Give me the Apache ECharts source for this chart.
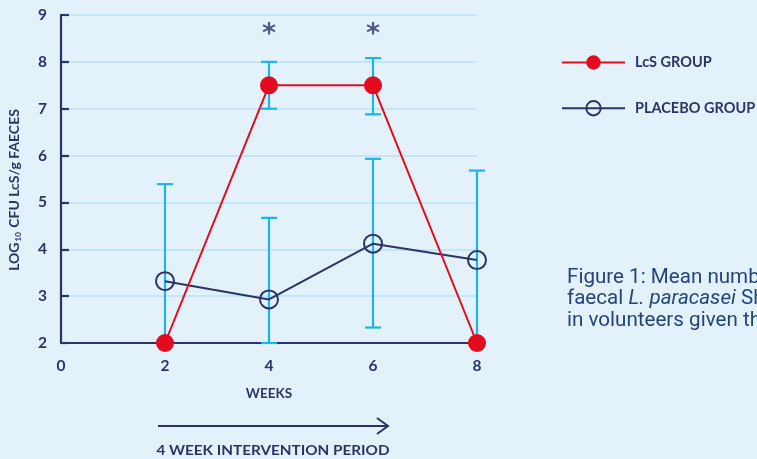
<!DOCTYPE html>
<html>
<head>
<meta charset="utf-8">
<script src="https://cdn.jsdelivr.net/npm/echarts@6/dist/echarts.min.js"></script>
<style>
  html, body { margin: 0; padding: 0; background: #e3f1fb; }
  #chart { width: 757px; height: 459px; }
</style>
</head>
<body>
<div id="chart"></div>
<script>
// Weeks of sampling
const weeks = [2, 4, 6, 8];
// Mean log10 CFU LcS per g faeces
const lcsMean = [2, 7.5, 7.5, 2];
const lcsLow = [null, 7.0, 6.88, null];
const lcsHigh = [null, 8.0, 8.08, null];
const placeboMean = [3.32, 2.93, 4.12, 3.77];
const placeboLow = [2, 2, 2.33, 2];
const placeboHigh = [5.39, 4.67, 5.93, 5.68];
// Weeks with a significant difference
const sigWeeks = [4, 6];
const sigLevel = 8.7;
const xTicks = [0, 2, 4, 6, 8];

const navy = '#2b3467';
const red = '#e30b1d';
const cyan = '#1eb4e6';
const font = 'Lato';

function errorData(low, high) {
  const out = [];
  weeks.forEach((w, i) => {
    if (low[i] != null && high[i] != null) out.push([w, low[i], high[i]]);
  });
  return out;
}

function renderError(params, api) {
  const x = api.value(0);
  const lo = api.coord([x, api.value(1)]);
  const hi = api.coord([x, api.value(2)]);
  const half = 8;
  const style = { stroke: cyan, lineWidth: 2.2, fill: null };
  return {
    type: 'group',
    children: [
      { type: 'line', shape: { x1: lo[0], y1: lo[1], x2: hi[0], y2: hi[1] }, style },
      { type: 'line', shape: { x1: hi[0] - half, y1: hi[1], x2: hi[0] + half, y2: hi[1] }, style },
      { type: 'line', shape: { x1: lo[0] - half, y1: lo[1], x2: lo[0] + half, y2: lo[1] }, style }
    ]
  };
}

const chart = echarts.init(document.getElementById('chart'));
chart.setOption({
  backgroundColor: '#e3f1fb',
  animation: false,
  grid: { left: 61, top: 15, right: 280, bottom: 116 },
  legend: {
    orient: 'vertical',
    left: 561,
    top: 55,
    padding: 0,
    itemWidth: 63,
    itemHeight: 18,
    itemGap: 30,
    data: ['LcS GROUP', 'PLACEBO GROUP'],
    textStyle: { color: navy, fontFamily: font, fontWeight: 'bold', fontSize: 14.5, padding: [0, 0, 0, 5] }
  },
  xAxis: {
    type: 'value',
    min: 0,
    max: 8,
    interval: 2,
    name: 'WEEKS',
    nameLocation: 'middle',
    nameGap: 44,
    nameTextStyle: { color: navy, fontFamily: font, fontWeight: 'bold', fontSize: 13.5 },
    axisLine: { lineStyle: { color: navy, width: 2.2 } },
    axisTick: { show: false },
    splitLine: { show: false },
    axisLabel: {
      color: navy, fontFamily: font, fontWeight: 'bold', fontSize: 15.5, margin: 15,
      formatter: v => xTicks.includes(v) ? String(v) : ''
    }
  },
  yAxis: {
    type: 'value',
    min: 2,
    max: 9,
    interval: 1,
    axisLine: { show: true, lineStyle: { color: navy, width: 2.2 } },
    axisTick: { show: true, inside: true, length: 8, lineStyle: { color: navy, width: 2.2 } },
    splitLine: { show: true, lineStyle: { color: '#c3e5f6', width: 2.2 } },
    axisLabel: { color: navy, fontFamily: font, fontWeight: 'bold', fontSize: 15.5, margin: 14 }
  },
  series: [
    {
      type: 'custom',
      name: 'placebo error',
      renderItem: renderError,
      data: errorData(placeboLow, placeboHigh),
      encode: { x: 0, y: [1, 2] },
      z: 1,
      silent: true
    },
    {
      type: 'custom',
      name: 'lcs error',
      renderItem: renderError,
      data: errorData(lcsLow, lcsHigh),
      encode: { x: 0, y: [1, 2] },
      z: 1,
      silent: true
    },
    {
      type: 'line',
      name: 'PLACEBO GROUP',
      data: weeks.map((w, i) => [w, placeboMean[i]]),
      symbol: 'circle',
      symbolSize: 18,
      showAllSymbol: true,
      lineStyle: { color: navy, width: 2 },
      itemStyle: { color: 'rgba(0,0,0,0)', borderColor: navy, borderWidth: 2 },
      z: 3
    },
    {
      type: 'line',
      name: 'LcS GROUP',
      data: weeks.map((w, i) => [w, lcsMean[i]]),
      symbol: 'circle',
      symbolSize: 18,
      lineStyle: { color: red, width: 2 },
      itemStyle: { color: red },
      z: 4
    },
    {
      type: 'scatter',
      name: 'significance',
      data: sigWeeks.map(w => [w, sigLevel]),
      symbolSize: 1,
      itemStyle: { color: 'rgba(0,0,0,0)' },
      label: {
        show: true, position: 'inside', formatter: '*', offset: [0, 6],
        color: navy, fontFamily: 'DejaVu Sans', fontWeight: 'bold', fontSize: 27
      },
      silent: true,
      z: 5
    }
  ],
  graphic: [
    {
      type: 'text',
      x: 14,
      y: 190,
      rotation: Math.PI / 2,
      style: {
        text: '{b|LOG}{s|10}{b| CFU LcS/g FAECES}',
        align: 'center',
        verticalAlign: 'middle',
        rich: {
          b: { fill: navy, fontFamily: font, fontWeight: 'bold', fontSize: 14 },
          s: { fill: navy, fontFamily: font, fontWeight: 'bold', fontSize: 8, padding: [9, 1, 0, 1] }
        }
      }
    },
    {
      type: 'line',
      shape: { x1: 158, y1: 426, x2: 388, y2: 426 },
      style: { stroke: navy, lineWidth: 2 }
    },
    {
      type: 'polyline',
      shape: { points: [[377, 418], [388, 426], [377, 434]] },
      style: { stroke: navy, lineWidth: 2, fill: null }
    },
    {
      type: 'text',
      x: 273,
      y: 450,
      scaleX: 1.09,
      style: {
        text: '4 WEEK INTERVENTION PERIOD',
        align: 'center',
        verticalAlign: 'middle',
        fill: navy,
        fontFamily: font,
        fontWeight: 'bold',
        fontSize: 14
      }
    },
    {
      type: 'text',
      x: 567,
      y: 267,
      style: {
        text: '{n|Figure 1: Mean number of}\n{n|faecal }{i|L. paracasei}{n| Shirota}\n{n|in volunteers given the}',
        lineHeight: 21.5,
        rich: {
          n: { fill: '#23457a', fontFamily: 'Roboto', fontSize: 20.6, lineHeight: 21.5 },
          i: { fill: '#23457a', fontFamily: 'Roboto', fontStyle: 'italic', fontSize: 20.6, lineHeight: 21.5 }
        }
      }
    }
  ]
});
</script>
</body>
</html>
